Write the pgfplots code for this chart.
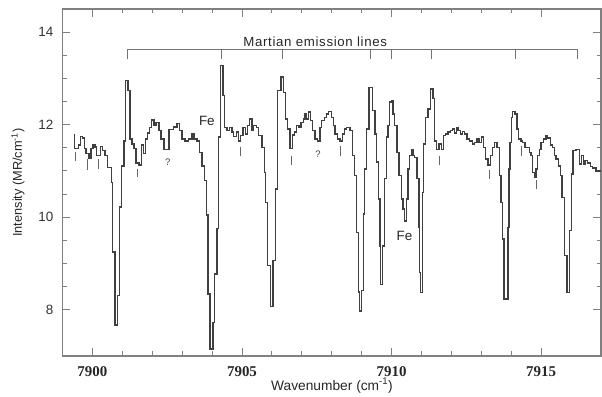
\documentclass[border=0pt]{standalone}
\usepackage{fontspec}
\setmainfont{Liberation Sans}
\newfontfamily\serifb{Liberation Serif}
\usepackage{pgfplots}
\pgfplotsset{compat=1.18}
\begin{document}
\begin{tikzpicture}
\begin{axis}[
 scale only axis, width=538.5bp, height=347bp,
 xmin=7899, xmax=7917, ymin=7, ymax=14.5,
 xtick={7900,7905,7910,7915}, minor x tick num=4,
 ytick={8,10,12,14}, minor y tick num=3,
 tick pos=both, tick align=inside,
 major tick length=8bp, minor tick length=4.5bp,
 axis line style={draw=black!50, line width=1.1bp},
 tick style={draw=black!50, line width=0.9bp},
 /pgf/number format/assume math mode=true,
 /pgf/number format/1000 sep={},
 xticklabel style={font=\fontsize{15}{15}\selectfont\serifb\bfseries, inner sep=0pt, anchor=north, yshift=-10bp, text=black!85},
 yticklabel style={font=\fontsize{13.5}{13.5}\selectfont, inner sep=0pt, anchor=east, xshift=-9bp, text=black!80},
 xlabel={Wavenumber (cm\textsuperscript{-1})},
 ylabel={Intensity (MR/cm\textsuperscript{-1})},
 xlabel style={at={(axis description cs:0.5005,-0.098)}, anchor=base, font=\fontsize{13.8}{14}\selectfont, inner sep=0pt, text=black!85},
 ylabel style={at={(axis description cs:-0.0826,0.5)}, anchor=center, font=\fontsize{12.8}{13}\selectfont, inner sep=0pt, text=black!85},
 unbounded coords=jump,
 clip=false,
]
\addplot[const plot mark left, draw=black!75, line width=1.35bp] coordinates {
(7899.378,11.78) (7899.411,11.49) (7899.545,11.56) (7899.599,11.75) (7899.679,11.71)
(7899.746,11.49) (7899.789,11.37) (7899.880,11.28) (7899.957,11.49) (7900.023,11.56)
(7900.090,11.52) (7900.147,11.33) (7900.268,11.53) (7900.334,11.44) (7900.415,11.33)
(7900.502,11.08) (7900.635,10.75) (7900.682,9.25) (7900.759,7.67) (7900.836,8.31)
(7900.903,10.22) (7900.970,11.11) (7901.050,11.65) (7901.104,12.95) (7901.184,12.74)
(7901.251,11.69) (7901.328,11.58) (7901.385,11.49) (7901.462,11.17) (7901.552,11.13)
(7901.639,11.56) (7901.706,11.37) (7901.773,11.69) (7901.839,11.82) (7901.906,11.94)
(7901.973,12.10) (7902.064,11.98) (7902.130,12.04) (7902.221,11.87) (7902.288,11.69)
(7902.388,11.46) (7902.555,11.89) (7902.709,11.95) (7902.823,12.02) (7902.910,11.87)
(7902.990,11.69) (7903.100,11.65) (7903.211,11.69) (7903.324,11.80) (7903.401,11.69)
(7903.492,11.65) (7903.579,11.40) (7903.659,11.11) (7903.736,10.79) (7903.803,10.05)
(7903.860,8.34) (7903.936,7.15) (7904.027,7.73) (7904.080,8.77) (7904.161,9.76)
(7904.214,11.73) (7904.271,13.28) (7904.361,12.63) (7904.415,11.94) (7904.495,11.87)
(7904.582,11.94) (7904.662,11.84) (7904.716,11.75) (7904.806,11.84) (7904.883,11.65)
(7904.940,11.76) (7905.030,11.94) (7905.107,11.80) (7905.184,11.98) (7905.251,12.12)
(7905.331,11.87) (7905.385,11.98) (7905.475,11.94) (7905.552,11.76) (7905.666,11.51)
(7905.742,10.97) (7905.793,10.32) (7905.853,8.95) (7905.943,8.07) (7906.033,9.06)
(7906.110,10.61) (7906.194,12.74) (7906.301,13.03) (7906.388,12.70) (7906.455,12.12)
(7906.522,11.91) (7906.602,11.49) (7906.679,11.78) (7906.746,11.84) (7906.823,11.98)
(7906.903,11.94) (7906.970,12.05) (7907.047,12.12) (7907.104,12.23) (7907.157,12.12)
(7907.214,12.27) (7907.291,12.09) (7907.358,11.87) (7907.438,11.69) (7907.525,11.65)
(7907.605,11.94) (7907.659,12.09) (7907.749,12.16) (7907.826,12.23) (7907.883,12.28)
(7907.993,12.16) (7908.050,11.98) (7908.107,11.80) (7908.184,11.69) (7908.274,11.65)
(7908.351,11.80) (7908.418,11.91) (7908.495,11.94) (7908.609,11.87) (7908.686,11.33)
(7908.753,10.90) (7908.829,9.67) (7908.896,8.38) (7908.920,7.97) (7908.987,8.41)
(7909.064,10.07) (7909.104,11.04) (7909.164,11.91) (7909.244,12.81) (7909.355,12.30)
(7909.445,11.80) (7909.498,11.19) (7909.555,10.39) (7909.612,9.38) (7909.639,8.55)
(7909.699,9.38) (7909.766,10.83) (7909.823,11.73) (7909.880,11.98) (7909.933,12.49)
(7909.990,12.52) (7910.047,12.23) (7910.100,11.98) (7910.181,11.40) (7910.247,10.90)
(7910.324,10.39) (7910.381,10.18) (7910.435,9.92) (7910.492,10.39) (7910.548,11.04)
(7910.602,11.33) (7910.659,11.47) (7910.716,11.33) (7910.769,11.29) (7910.849,10.83)
(7910.916,9.78) (7910.943,8.81) (7910.977,8.37) (7911.037,10.54) (7911.077,11.58)
(7911.137,12.16) (7911.217,12.34) (7911.294,12.77) (7911.385,12.56) (7911.438,11.65)
(7911.495,11.47) (7911.585,11.58) (7911.662,11.47) (7911.739,11.76) (7911.806,11.80)
(7911.886,11.84) (7911.963,11.87) (7912.030,11.91) (7912.107,11.82) (7912.164,11.94)
(7912.221,11.87) (7912.298,11.80) (7912.365,11.85) (7912.441,11.80) (7912.522,11.69)
(7912.609,11.65) (7912.699,11.58) (7912.776,11.62) (7912.856,11.69) (7912.923,11.62)
(7913.000,11.73) (7913.077,11.51) (7913.144,11.26) (7913.224,11.13) (7913.301,11.33)
(7913.368,11.51) (7913.445,11.62) (7913.525,11.51) (7913.602,10.90) (7913.659,10.32)
(7913.702,9.53) (7913.753,8.23) (7913.886,9.78) (7913.926,11.04) (7913.963,11.62)
(7914.000,12.16) (7914.047,12.28) (7914.127,12.23) (7914.194,11.91) (7914.238,11.69)
(7914.328,11.65) (7914.381,11.62) (7914.462,11.51) (7914.605,11.40) (7914.662,11.33)
(7914.716,10.97) (7914.773,10.86) (7914.829,11.04) (7914.883,11.33) (7914.940,11.47)
(7914.997,11.62) (7915.084,11.69) (7915.164,11.76) (7915.217,11.71) (7915.308,11.56)
(7915.385,11.51) (7915.441,11.33) (7915.498,11.26) (7915.575,11.11) (7915.642,10.90)
(7915.699,10.43) (7915.776,9.17) (7915.866,8.37) (7915.953,9.71) (7916.010,10.93)
(7916.060,11.44) (7916.167,11.47) (7916.278,11.15) (7916.355,11.33) (7916.421,11.15)
(7916.468,11.22) (7916.555,11.17) (7916.645,11.10) (7916.722,11.06) (7916.836,11.00)
(7917.0,11.00)
};
% bracket for Martian emission lines
\addplot[draw=black!55, line width=1bp] coordinates {
(7901.18,13.41) (7901.18,13.617) (7916.2,13.617) (7916.2,13.41)
(7916.3,nan)
(7904.33,13.617) (7904.33,13.41) (7904.4,nan)
(7906.35,13.617) (7906.35,13.41) (7906.4,nan)
(7909.31,13.617) (7909.31,13.41) (7909.4,nan)
(7910.01,13.617) (7910.01,13.41) (7910.1,nan)
(7911.35,13.617) (7911.35,13.41) (7911.4,nan)
(7914.14,13.617) (7914.14,13.41)
};
% small line markers
\addplot[draw=black!60, line width=0.8bp] coordinates {
(7899.421,11.416) (7899.421,11.221) (7899.5,nan)
(7899.833,11.258) (7899.833,11.026) (7899.9,nan)
(7900.201,11.258) (7900.201,11.041) (7900.3,nan)
(7901.518,11.041) (7901.518,10.861) (7901.6,nan)
(7904.950,11.528) (7904.950,11.329) (7905.0,nan)
(7906.635,11.329) (7906.635,11.128) (7906.7,nan)
(7908.291,11.539) (7908.291,11.329) (7908.3,nan)
(7911.595,11.329) (7911.595,11.128) (7911.6,nan)
(7913.278,11.019) (7913.278,10.818) (7913.3,nan)
(7914.348,11.539) (7914.348,11.329) (7914.4,nan)
(7914.856,10.803) (7914.856,10.608)
};
\node[anchor=base, inner sep=0pt, font=\fontsize{13.3}{14}\selectfont\addfontfeatures{LetterSpace=5}, text=black!85] at (axis cs:7907.448,13.697) {Martian emission lines};
\node[anchor=base, inner sep=0pt, font=\fontsize{13.5}{14}\selectfont, text=black!85] at (axis cs:7903.826,11.99) {Fe};
\node[anchor=base, inner sep=0pt, font=\fontsize{13.5}{14}\selectfont, text=black!85] at (axis cs:7910.43,9.489) {Fe};
\node[anchor=base, inner sep=0pt, font=\fontsize{9.5}{10}\selectfont, text=black!75] at (axis cs:7902.515,11.11) {?};
\node[anchor=base, inner sep=0pt, font=\fontsize{9.5}{10}\selectfont, text=black!75] at (axis cs:7907.54,11.29) {?};
\end{axis}
\path (-62.5bp,-41bp) rectangle (539.5bp,356bp);
\end{tikzpicture}
\end{document}
